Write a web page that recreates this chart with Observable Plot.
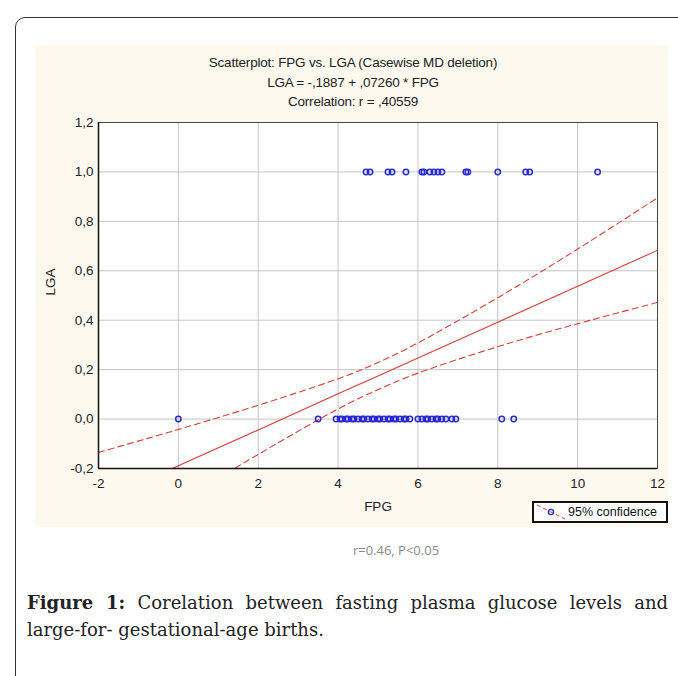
<!DOCTYPE html>
<html>
<head>
<meta charset="utf-8">
<script src="https://cdn.jsdelivr.net/npm/d3@7"></script>
<script src="https://cdn.jsdelivr.net/npm/@observablehq/plot@0.6"></script>
<style>
  html, body { margin: 0; padding: 0; background: #fff; width: 678px; height: 676px; overflow: hidden; }
  #border { position: absolute; left: 15px; top: 17px; width: 700px; height: 700px; border: 1.5px solid #333; border-top-left-radius: 10px; box-sizing: border-box; }
  #panel { position: absolute; left: 35px; top: 45px; width: 633px; height: 482px; background: #fdf9ef; }
  .title { position: absolute; left: 35px; width: 636px; text-align: center; font-family: "Liberation Sans", Arial, sans-serif; font-size: 13.5px; color: #222; line-height: 16px; letter-spacing: -0.2px; }
  #chart { position: absolute; left: 35px; top: 112px; }
  #legend { position: absolute; left: 532px; top: 501px; width: 136px; height: 22px; border: 2px solid #111; box-sizing: border-box; background: #fff; font-family: "Liberation Sans", Arial, sans-serif; font-size: 12.5px; color: #111; display: flex; align-items: center; white-space: nowrap; overflow: hidden; }
  #legend svg { margin-left: 1px; margin-right: 1px; flex: none; }
  #note { position: absolute; left: 0; width: 792px; top: 541px; text-align: center; font-family: "Open Sans", "Liberation Sans", sans-serif; font-size: 13px; color: #8a8a8a; }
  .fig { position: absolute; left: 27px; width: 641px; font-family: "DejaVu Serif", serif; font-size: 18px; color: #222; line-height: 22px; }
  #fig1 { top: 592px; text-align: justify; text-align-last: justify; }
  #fig2 { top: 619px; }
  .fig b { font-family: "DejaVu Serif", serif; }
</style>
</head>
<body>
<div id="border"></div>
<div id="panel"></div>
<div class="title" style="top:55px">Scatterplot: FPG vs. LGA (Casewise MD deletion)</div>
<div class="title" style="top:75px">LGA = -,1887 + ,07260 * FPG</div>
<div class="title" style="top:94px">Correlation: r = ,40559</div>
<div id="chart"></div>
<div id="legend">
  <svg width="32" height="16"><line x1="2" y1="1" x2="30" y2="15" stroke="#e0393b" stroke-width="1" stroke-dasharray="4,3"></line><circle cx="16" cy="8" r="2.6" fill="none" stroke="#2a2ad4" stroke-width="1.4"></circle></svg>
  <span>95% confidence</span>
</div>
<div id="note">r=0.46, P&lt;0.05</div>
<div class="fig" id="fig1"><b>Figure 1:</b> Corelation between fasting plasma glucose levels and</div>
<div class="fig" id="fig2">large-for- gestational-age births.</div>
<script>
// FPG values of cases with LGA = 1
const fpgLGA1 = [4.7, 4.8, 5.25, 5.35, 5.7, 6.1, 6.15, 6.3, 6.4, 6.5, 6.6, 7.2, 7.25, 8.0, 8.7, 8.8, 10.5];
// FPG values of cases with LGA = 0
const fpgLGA0 = [0, 3.5, 3.95, 4.05, 4.1, 4.2, 4.25, 4.35, 4.4, 4.5, 4.6, 4.65, 4.75, 4.85, 4.9, 5.0, 5.05, 5.15, 5.25, 5.3, 5.4, 5.45, 5.55, 5.65, 5.7, 5.8,
                 6.0, 6.1, 6.2, 6.25, 6.35, 6.45, 6.5, 6.6, 6.7, 6.85, 6.95, 8.1, 8.4];
// regression line and 95% confidence bands
const lineX = [-2, 0, 2, 4, 5, 6, 8, 10, 12];
const fitY = [-0.334, -0.189, -0.044, 0.102, 0.174, 0.247, 0.392, 0.537, 0.683];
const upperY = [-0.135, -0.042, 0.056, 0.163, 0.229, 0.308, 0.491, 0.688, 0.895];
const lowerY = [-0.533, -0.336, -0.143, 0.041, 0.119, 0.186, 0.293, 0.386, 0.472];
const xTicks = [-2, 0, 2, 4, 6, 8, 10, 12];
const yTicks = [-0.2, 0, 0.2, 0.4, 0.6, 0.8, 1.0, 1.2];

const pts = [
  ...fpgLGA0.map(x => ({x, y: 0})),
  ...fpgLGA1.map(x => ({x, y: 1}))
];
const fit = lineX.map((x, i) => ({x, y: fitY[i]}));
const upper = lineX.map((x, i) => ({x, y: upperY[i]}));
const lower = lineX.map((x, i) => ({x, y: lowerY[i]}));
const red = "#e0393b";
const blue = "#2a2ad4";

const chart = Plot.plot({
  width: 633,
  height: 415,
  marginLeft: 63,
  marginRight: 11,
  marginTop: 10,
  marginBottom: 59,
  style: { background: "transparent", fontFamily: "'Liberation Sans', Arial, sans-serif", fontSize: "13.5px", color: "#222" },
  x: { domain: [-2, 12], ticks: xTicks, tickSize: 0, tickPadding: 10, label: null, tickFormat: d => String(d) },
  y: { domain: [-0.2, 1.2], ticks: yTicks, tickSize: 0, tickPadding: 5, label: null,
       tickFormat: d => d.toFixed(1).replace(".", ",") },
  marks: [
    Plot.frame({ fill: "white" }),
    Plot.gridX(xTicks.slice(1, -1), { stroke: "#c4c4c4", strokeOpacity: 1 }),
    Plot.gridY(yTicks.slice(1, -1), { stroke: "#c4c4c4", strokeOpacity: 1 }),
    Plot.line(fit, { x: "x", y: "y", stroke: red, strokeWidth: 1.1, clip: true }),
    Plot.line(upper, { x: "x", y: "y", stroke: red, strokeWidth: 1.1, strokeDasharray: "6,4", curve: "natural", clip: true }),
    Plot.line(lower, { x: "x", y: "y", stroke: red, strokeWidth: 1.1, strokeDasharray: "6,4", curve: "natural", clip: true }),
    Plot.dot(pts, { x: "x", y: "y", r: 2.7, stroke: blue, strokeWidth: 1.5, fill: "none" }),
    Plot.frame({ stroke: "#444" }),
    Plot.ruleX([-2], { stroke: "#111", strokeWidth: 1.5 }),
    Plot.ruleY([-0.2], { stroke: "#111", strokeWidth: 1.5 }),
    Plot.text(["FPG"], { frameAnchor: "bottom", dy: 42, fontSize: 13.5, fill: "#222" }),
    Plot.text(["LGA"], { frameAnchor: "left", dx: -48, rotate: -90, fontSize: 13.5, fill: "#222" })
  ]
});
document.getElementById("chart").appendChild(chart);
</script>
</body>
</html>
